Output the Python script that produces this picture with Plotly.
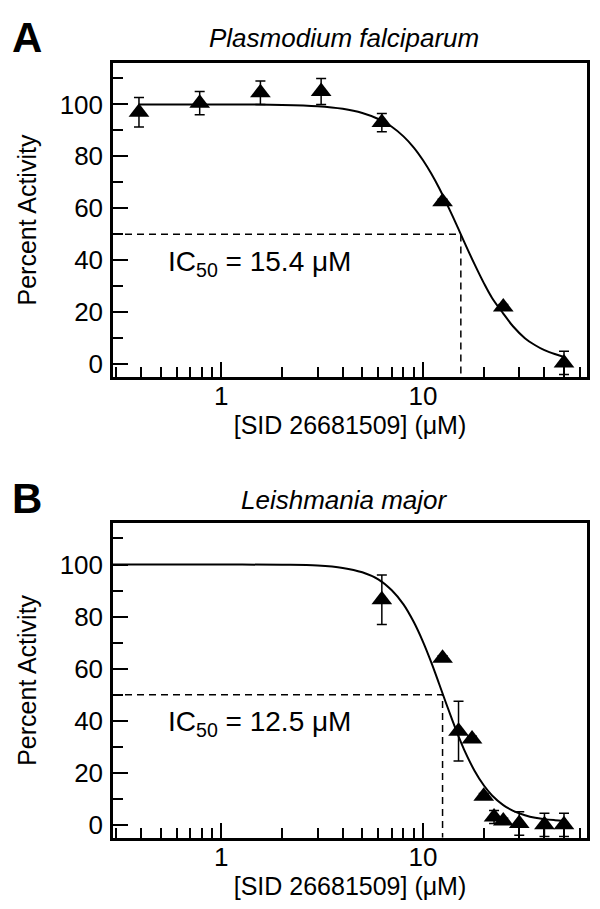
import plotly.graph_objects as go
from plotly.subplots import make_subplots

# panel A - Plasmodium falciparum
conc_a = [0.390625, 0.78125, 1.5625, 3.125, 6.25, 12.5, 25, 50]
act_a = [97, 100.5, 104.5, 105, 93, 62.5, 22, 0.5]
err_a = [5.7, 4.5, 4.5, 5, 3.5, 1, 1, 4.5]
fit_x_a = [0.39, 1, 2, 3, 4, 5, 6, 7, 8, 9, 10, 11, 12, 13, 14, 15, 16, 18, 20, 22, 25, 28, 32, 36, 40, 45, 50]
fit_y_a = [100, 100, 99.8, 99.3, 98.3, 96.7, 94.4, 91.4, 87.7, 83.4, 78.5, 73.3, 67.9, 62.4, 57.1,
           52.0, 47.1, 38.5, 31.3, 25.5, 19.5, 14.5, 10.0, 7.3, 5.4, 3.9, 2.8]
ic50_a = 15.4

# panel B - Leishmania major
conc_b = [6.25, 12.5, 15, 17.5, 20, 22.5, 25, 30, 40, 50]
act_b = [86.5, 64, 36, 33, 11, 3, 1.5, 0.5, 0, 0]
err_b = [9.5, 1, 11.5, 1, 1, 2.5, 1, 4.5, 4.5, 4.5]
fit_x_b = [0.29, 0.5, 1, 2, 3, 4, 5, 6, 7, 8, 9, 10, 11, 12, 13, 14, 15, 16, 18, 20, 22, 25, 28, 32, 36, 40, 45, 50]
fit_y_b = [100, 100, 100, 99.9, 99.6, 98.7, 97.0, 94.3, 90.1, 84.7, 77.9, 70.3, 62.3, 54.3, 46.8,
           40.0, 34.0, 28.8, 20.8, 15.2, 11.3, 7.6, 5.4, 3.7, 2.7, 2.2, 1.8, 1.5]
ic50_b = 12.5

titles = ["Plasmodium falciparum", "Leishmania major"]
letters = ["A", "B"]
x_title = "[SID 26681509] (μM)"
y_title = "Percent Activity"

FONT = "Liberation Sans, Arial, sans-serif"
XR = [-0.537, 1.813]
YR = [-5, 116]
minor_x = [0.3, 0.4, 0.5, 0.6, 0.7, 0.8, 0.9, 2, 3, 4, 5, 6, 7, 8, 9, 20, 30, 40, 50, 60]

fig = make_subplots(rows=2, cols=1)

panels = [
    (conc_a, act_a, err_a, fit_x_a, fit_y_a, ic50_a),
    (conc_b, act_b, err_b, fit_x_b, fit_y_b, ic50_b),
]
for i, (cx, cy, ce, fx, fy, ic) in enumerate(panels, start=1):
    # fitted curve
    fig.add_trace(go.Scatter(x=fx, y=fy, mode="lines", line=dict(color="black", width=2, shape="spline"),
                             hoverinfo="skip"), row=i, col=1)
    # IC50 guide
    fig.add_trace(go.Scatter(x=[10 ** XR[0], ic, ic], y=[50, 50, YR[0]], mode="lines",
                             line=dict(color="black", width=1.5, dash="7px,5px"), hoverinfo="skip"),
                  row=i, col=1)
    # data
    fig.add_trace(go.Scatter(x=cx, y=cy, mode="markers",
                             marker=dict(symbol="triangle-up", size=18, color="black"),
                             error_y=dict(type="data", array=ce, color="black", thickness=1.5, width=5)),
                  row=i, col=1)

# domains in pixels -> paper fractions
W, H = 600, 909
xdom = [105 / W, 579 / W]
ydoms = [[1 - 370 / H, 1 - 55 / H], [1 - 831.7 / H, 1 - 516 / H]]

for i in (1, 2):
    fig.update_xaxes(type="log", range=XR, domain=xdom, tickvals=[1, 10], ticktext=["1", "10"],
                     ticks="inside", ticklen=15, tickwidth=2, tickcolor="black", ticklabelstandoff=-6,
                     showline=True, linewidth=2.5, linecolor="black", mirror=True,
                     showgrid=False, zeroline=False,
                     minor=dict(tickvals=minor_x, ticks="inside", ticklen=10, tickwidth=2,
                                tickcolor="black", showgrid=False),
                     tickfont=dict(size=26, color="black", family=FONT),
                     title=dict(text=x_title, font=dict(size=25, color="black", family=FONT), standoff=0),
                     row=i, col=1)
    fig.update_yaxes(range=YR, domain=ydoms[i - 1], tickvals=[0, 20, 40, 60, 80, 100],
                     ticks="inside", ticklen=15, tickwidth=2, tickcolor="black", ticklabelstandoff=2,
                     showline=True, linewidth=2.5, linecolor="black", mirror=True,
                     showgrid=False, zeroline=False,
                     minor=dict(tick0=0, dtick=10, ticks="inside", ticklen=10, tickwidth=2,
                                tickcolor="black", showgrid=False),
                     tickfont=dict(size=26, color="black", family=FONT),
                     title=dict(text=y_title, font=dict(size=25, color="black", family=FONT), standoff=16),
                     row=i, col=1)

annos = []
title_y = [30, 493]
letter_y = [30, 492]
ic_y = [256, 717]
for k in range(2):
    annos.append(dict(x=336 / W, y=1 - title_y[k] / H, xref="paper", yref="paper",
                      text="<i>" + titles[k] + "</i>", showarrow=False,
                      font=dict(size=26, color="black", family=FONT), xanchor="center", yanchor="middle"))
    annos.append(dict(x=2 / W, y=1 - letter_y[k] / H, xref="paper", yref="paper",
                      text="<b>" + letters[k] + "</b>", showarrow=False,
                      font=dict(size=42, color="black", family=FONT), xanchor="left", yanchor="middle"))
ic_vals = [ic50_a, ic50_b]
for k in range(2):
    annos.append(dict(x=158 / W, y=1 - ic_y[k] / H, xref="paper", yref="paper",
                      text="IC<sub>50</sub> = %.1f μM" % ic_vals[k], showarrow=False,
                      font=dict(size=28, color="black", family=FONT), xanchor="left", yanchor="middle"))

fig.update_layout(width=W, height=H, margin=dict(l=0, r=0, t=0, b=0),
                  paper_bgcolor="white", plot_bgcolor="white", showlegend=False,
                  annotations=annos, font=dict(family=FONT, color="black"))

fig.write_html("out.html")
